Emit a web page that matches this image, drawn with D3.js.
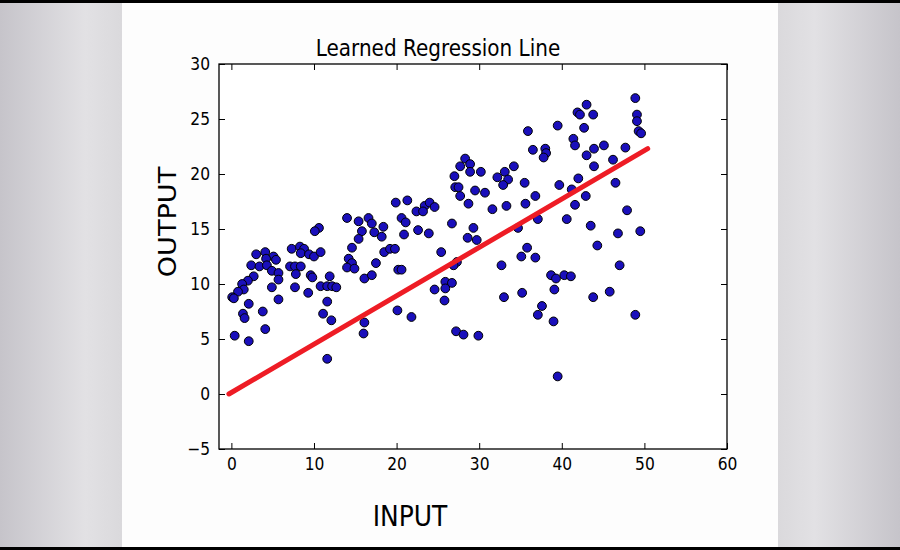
<!DOCTYPE html>
<html>
<head>
<meta charset="utf-8">
<script src="https://cdn.jsdelivr.net/npm/d3@7"></script>
<style>
  html, body { margin: 0; padding: 0; background: #000; }
  svg { display: block; }
  text { font-family: "DejaVu Sans", sans-serif; fill: #000; }
</style>
</head>
<body>
<svg id="chart"></svg>
<script>
// scatter values
const inputVals = [
  10.6,10.1,7.3,8.3,8.8,8.4,9.4,10.0,10.8,3.0,4.1,5.1,5.4,4.2,2.4,3.4,4.3,4.9,5.7,5.7,
  7.1,7.7,8.4,7.8,9.6,9.8,11.9,2.7,2.0,1.3,1.5,0.8,0.1,0.3,4.9,7.7,9.3,10.8,11.6,12.2,
  12.7,5.7,2.1,11.6,1.4,1.6,3.8,11.1,12.1,4.1,0.4,2.1,11.6,
  19.9,21.3,22.4,23.4,24.0,24.6,23.2,14.0,15.4,16.6,17.0,18.4,17.3,15.8,15.4,18.2,
  20.6,21.1,20.9,22.6,23.9,14.6,18.5,19.2,19.8,25.4,14.2,14.6,14.0,14.9,17.5,20.2,
  20.6,16.1,17.0,24.6,20.1,21.8,16.1,16.0,
  28.3,28.9,27.7,28.9,30.2,34.2,33.1,32.2,33.5,32.9,27.0,27.1,27.5,27.7,29.5,30.7,
  28.7,35.5,31.6,33.3,35.6,26.7,29.3,28.6,29.7,34.7,35.8,35.1,27.3,26.9,32.7,25.9,
  26.7,25.9,25.8,33.0,35.2,27.2,28.1,29.9,35.9,
  43.0,41.9,42.2,43.8,39.5,42.7,41.4,41.6,38.0,36.5,38.1,37.8,43.9,43.0,43.9,42.0,
  39.7,41.2,42.9,41.6,36.8,37.1,40.6,43.5,44.3,36.8,38.7,39.3,40.3,41.1,39.1,43.8,
  37.6,37.1,39.0,39.5,
  48.9,49.1,49.1,49.3,49.6,45.1,47.7,46.2,46.5,47.9,46.8,49.5,47.0,45.8,48.9
];
const outputVals = [
  15.1,14.8,13.2,13.4,13.2,12.8,12.7,12.5,12.9,12.7,12.9,12.5,12.2,12.3,11.7,11.6,11.7,11.2,11.0,10.4,
  11.6,11.6,11.6,10.9,10.8,10.6,10.7,10.7,10.3,10.0,9.5,9.3,8.8,8.7,9.7,9.7,9.2,9.8,9.8,9.8,
  9.7,8.6,8.2,8.4,7.3,6.9,7.5,7.3,6.7,5.9,5.3,4.8,3.2,
  17.4,17.6,16.6,17.1,17.4,17.0,16.6,16.0,15.7,16.0,15.5,15.2,14.7,14.8,14.1,14.3,
  16.0,15.6,14.5,14.9,14.6,13.3,12.9,13.2,13.2,12.9,12.3,11.9,11.5,11.4,11.9,11.3,
  11.3,10.5,10.8,9.5,7.6,7.0,6.5,5.5,
  21.4,20.9,20.7,20.2,20.2,20.7,20.2,19.7,19.5,19.0,19.8,18.8,18.8,18.0,18.5,18.3,
  17.3,19.2,16.8,17.1,17.3,15.5,15.1,14.2,14.0,15.1,13.3,12.5,12.0,11.7,11.7,10.2,
  10.1,9.6,8.5,8.8,9.2,5.7,5.4,5.3,23.9,
  26.3,25.6,25.4,25.4,24.4,24.2,23.2,22.6,22.3,22.2,21.9,21.5,22.3,21.7,20.7,19.6,
  19.0,18.6,18.0,17.2,18.0,15.9,15.9,15.3,13.5,12.4,10.8,10.5,10.8,10.7,9.5,8.8,
  8.0,7.2,6.6,1.6,
  26.9,25.4,24.8,23.9,23.7,22.6,22.4,21.3,19.2,16.7,14.6,14.8,11.7,9.3,7.2
];
// learned line end points
const lineX = [-0.3, 50.4];
const lineY = [0.0, 22.3];

const xTicks = [0, 10, 20, 30, 40, 50, 60];
const yTicks = [-5, 0, 5, 10, 15, 20, 25, 30];

const W = 900, H = 550;
const plot = {left: 219, right: 727, top: 64, bottom: 449};
const stretch = 1.13; // the photo's text looks a bit tall

const svg = d3.select("#chart").attr("width", W).attr("height", H);

// page backdrop: grey sides, white sheet
const defs = svg.append("defs");
const gl = defs.append("linearGradient").attr("id", "sideL");
gl.append("stop").attr("offset", "0%").attr("stop-color", "#c6c4ca");
gl.append("stop").attr("offset", "70%").attr("stop-color", "#e2e1e4");
gl.append("stop").attr("offset", "100%").attr("stop-color", "#dad9dc");
const gr = defs.append("linearGradient").attr("id", "sideR").attr("x1", "100%").attr("x2", "0%");
gr.append("stop").attr("offset", "0%").attr("stop-color", "#c6c4ca");
gr.append("stop").attr("offset", "70%").attr("stop-color", "#e2e1e4");
gr.append("stop").attr("offset", "100%").attr("stop-color", "#dad9dc");

svg.append("rect").attr("width", W).attr("height", H).attr("fill", "#000");
svg.append("rect").attr("x", 0).attr("y", 3).attr("width", 122).attr("height", 544).attr("fill", "url(#sideL)");
svg.append("rect").attr("x", 778).attr("y", 3).attr("width", 122).attr("height", 544).attr("fill", "url(#sideR)");
svg.append("rect").attr("x", 122).attr("y", 3).attr("width", 656).attr("height", 544).attr("fill", "#fdfdfd");

const x = d3.scaleLinear().domain([-1.5, 60]).range([plot.left, plot.right]);
const y = d3.scaleLinear().domain([-5, 30]).range([plot.bottom, plot.top]);

svg.append("rect")
  .attr("x", plot.left).attr("y", plot.top)
  .attr("width", plot.right - plot.left).attr("height", plot.bottom - plot.top)
  .attr("fill", "#fff");

// scatter
const pts = inputVals.map((v, i) => [v, outputVals[i]]);
svg.append("g").selectAll("circle")
  .data(pts)
  .enter().append("circle")
  .attr("cx", d => x(d[0]))
  .attr("cy", d => y(d[1]))
  .attr("r", 4.4)
  .attr("fill", "#1a0fbb")
  .attr("stroke", "#000")
  .attr("stroke-width", 1);

// regression line
svg.append("path")
  .datum(lineX.map((v, i) => [v, lineY[i]]))
  .attr("d", d3.line().x(d => x(d[0])).y(d => y(d[1])))
  .attr("fill", "none")
  .attr("stroke", "#ee1c25")
  .attr("stroke-width", 5)
  .attr("stroke-linecap", "round");

// axes, ticks pointing inward on all four sides
const styleAxis = g => {
  g.select(".domain").remove();
  g.selectAll(".tick line").attr("stroke", "#000");
  g.selectAll(".tick text")
    .style("font-family", "'DejaVu Sans', sans-serif")
    .style("font-size", "15.5px")
    .attr("fill", "#000");
};
const stretchText = g => g.selectAll(".tick text").each(function () {
  const t = d3.select(this);
  const ty = +t.attr("y") || 0;
  t.attr("transform", `translate(0,${ty}) scale(1,${stretch}) translate(0,${-ty})`);
});
svg.append("g").attr("transform", `translate(0,${plot.bottom})`)
  .call(d3.axisBottom(x).tickValues(xTicks).tickSize(-6).tickPadding(9).tickFormat(d3.format("d")))
  .call(styleAxis).call(stretchText);
svg.append("g").attr("transform", `translate(0,${plot.top})`)
  .call(d3.axisTop(x).tickValues(xTicks).tickSize(-6).tickFormat(""))
  .call(styleAxis);
svg.append("g").attr("transform", `translate(${plot.left},0)`)
  .call(d3.axisLeft(y).tickValues(yTicks).tickSize(-6).tickPadding(9).tickFormat(d => d < 0 ? "\u2212" + (-d) : d))
  .call(styleAxis).call(stretchText);
svg.append("g").attr("transform", `translate(${plot.right},0)`)
  .call(d3.axisRight(y).tickValues(yTicks).tickSize(-6).tickFormat(""))
  .call(styleAxis);

svg.append("rect")
  .attr("x", plot.left).attr("y", plot.top)
  .attr("width", plot.right - plot.left).attr("height", plot.bottom - plot.top)
  .attr("fill", "none").attr("stroke", "#000").attr("stroke-width", 1.3);

// titles
svg.append("text").attr("transform", `translate(438,56) scale(1,${stretch})`).attr("text-anchor", "middle")
  .style("font-size", "20px").text("Learned Regression Line");
svg.append("text").attr("transform", `translate(410,526) scale(1,${stretch})`).attr("text-anchor", "middle")
  .style("font-size", "25px").text("INPUT");
svg.append("text").attr("transform", `translate(176,222) rotate(-90) scale(${stretch},1)`).attr("text-anchor", "middle")
  .style("font-size", "24px").text("OUTPUT");
</script>
</body>
</html>
